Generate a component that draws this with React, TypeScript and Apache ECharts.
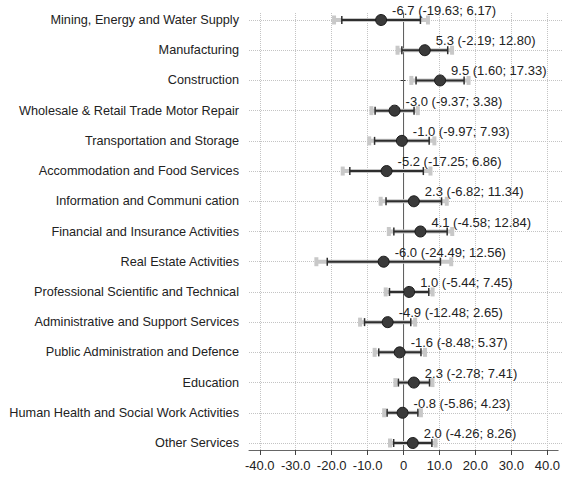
import React, { useEffect, useRef } from 'react';
import * as echarts from 'echarts';

const categories = [
  'Mining, Energy and Water Supply',
  'Manufacturing',
  'Construction',
  'Wholesale & Retail Trade Motor Repair',
  'Transportation and Storage',
  'Accommodation and Food Services',
  'Information and Communi cation',
  'Financial and Insurance Activities',
  'Real Estate Activities',
  'Professional Scientific and Technical',
  'Administrative and Support Services',
  'Public Administration and Defence',
  'Education',
  'Human Health and Social Work Activities',
  'Other Services',
];
const estimates = [-6.7, 5.3, 9.5, -3.0, -1.0, -5.2, 2.3, 4.1, -6.0, 1.0, -4.9, -1.6, 2.3, -0.8, 2.0];
const ci95Low = [-19.63, -2.19, 1.6, -9.37, -9.97, -17.25, -6.82, -4.58, -24.49, -5.44, -12.48, -8.48, -2.78, -5.86, -4.26];
const ci95High = [6.17, 12.8, 17.33, 3.38, 7.93, 6.86, 11.34, 12.84, 12.56, 7.45, 2.65, 5.37, 7.41, 4.23, 8.26];
const ci90Low = [-17.5, -1.0, 2.9, -8.35, -8.5, -15.3, -5.35, -3.2, -21.5, -4.4, -11.25, -7.35, -1.95, -5.05, -3.25];
const ci90High = [4.1, 11.6, 16.1, 2.35, 6.5, 4.9, 9.9, 11.45, 9.6, 6.4, 1.45, 4.25, 6.6, 3.4, 7.25];
const xTickValues = [-40, -30, -20, -10, 0, 10, 20, 30, 40];
const xMin = -43;
const xMax = 43;

const FONT = '"Liberation Sans", Arial, Helvetica, sans-serif';

export default function App() {
  const ref = useRef<HTMLDivElement>(null);
  useEffect(() => {
    if (!ref.current) return;
    const chart = echarts.init(ref.current, undefined, { renderer: 'svg' });
    const data = categories.map((_, i) => [
      i,
      estimates[i],
      ci95Low[i],
      ci95High[i],
      ci90Low[i],
      ci90High[i],
    ]);
    const option: any = {
      animation: false,
      backgroundColor: '#ffffff',
      textStyle: { fontFamily: FONT },
      grid: [
        { left: 249, right: 1, top: 13, bottom: 27, containLabel: false },
        { left: 249, right: 1, top: 20, bottom: 34, containLabel: false },
      ],
      xAxis: [
        {
          type: 'value',
          gridIndex: 0,
          min: xMin,
          max: xMax,
          axisLine: { show: true, lineStyle: { color: '#666', width: 1 } },
          axisTick: {
            show: true,
            length: 5,
            customValues: xTickValues,
            lineStyle: { color: '#444' },
          },
          axisLabel: {
            show: true,
            customValues: xTickValues,
            margin: 9,
            fontSize: 13,
            color: '#222',
            fontFamily: FONT,
            formatter: (v: number) => (v === 0 ? '0' : v.toFixed(1)),
          },
          splitLine: {
            show: true,
            lineStyle: { color: '#c4c4c4', type: 'dotted', width: 1 },
          },
        },
        {
          type: 'value',
          gridIndex: 1,
          min: xMin,
          max: xMax,
          show: false,
          splitLine: { show: false },
        },
      ],
      yAxis: [
        {
          type: 'value',
          gridIndex: 0,
          min: 0,
          max: 1,
          axisLine: { show: true, lineStyle: { color: '#222', width: 1 } },
          axisTick: { show: false },
          axisLabel: { show: false },
          splitLine: { show: false },
        },
        {
          type: 'category',
          gridIndex: 1,
          data: categories,
          inverse: true,
          boundaryGap: false,
          axisLine: { show: false },
          axisTick: { show: true, length: 5, lineStyle: { color: '#333' } },
          axisLabel: {
            show: true,
            margin: 10,
            fontSize: 12.7,
            color: '#222',
            fontFamily: FONT,
            interval: 0,
          },
          splitLine: {
            show: true,
            lineStyle: { color: '#c4c4c4', type: 'dotted', width: 1 },
          },
        },
      ],
      series: [
        {
          type: 'line',
          xAxisIndex: 0,
          yAxisIndex: 0,
          data: [
            [0, 0],
            [0, 1],
          ],
          symbol: 'none',
          lineStyle: { color: '#666', width: 1 },
          silent: true,
          z: 1,
        },
        {
          type: 'custom',
          xAxisIndex: 1,
          yAxisIndex: 1,
          data,
          encode: { x: [1, 2, 3, 4, 5], y: 0 },
          z: 3,
          silent: true,
          renderItem: (params: any, api: any) => {
            const yi = api.value(0);
            const est = api.value(1);
            const p = api.coord([est, yi]);
            const a = api.coord([api.value(2), yi]);
            const b = api.coord([api.value(3), yi]);
            const c = api.coord([api.value(4), yi]);
            const d = api.coord([api.value(5), yi]);
            const cy = p[1];
            const gray = '#c8c8c8';
            const dark = '#2e2e2e';
            const i = params.dataIndex;
            const label = `${estimates[i].toFixed(1)} (${ci95Low[i].toFixed(2)}; ${ci95High[i].toFixed(2)})`;
            return {
              type: 'group',
              children: [
                { type: 'line', shape: { x1: a[0], y1: cy, x2: b[0], y2: cy }, style: { stroke: gray, lineWidth: 4 } },
                { type: 'line', shape: { x1: a[0], y1: cy - 4.5, x2: a[0], y2: cy + 4.5 }, style: { stroke: gray, lineWidth: 4 } },
                { type: 'line', shape: { x1: b[0], y1: cy - 4.5, x2: b[0], y2: cy + 4.5 }, style: { stroke: gray, lineWidth: 4 } },
                { type: 'line', shape: { x1: c[0], y1: cy, x2: d[0], y2: cy }, style: { stroke: dark, lineWidth: 2 } },
                { type: 'line', shape: { x1: c[0], y1: cy - 4, x2: c[0], y2: cy + 4 }, style: { stroke: dark, lineWidth: 1.5 } },
                { type: 'line', shape: { x1: d[0], y1: cy - 4, x2: d[0], y2: cy + 4 }, style: { stroke: dark, lineWidth: 1.5 } },
                { type: 'circle', shape: { cx: p[0], cy, r: 5.5 }, style: { fill: '#3a3a3a', stroke: '#1a1a1a', lineWidth: 1 } },
                {
                  type: 'text',
                  x: p[0] + 11,
                  y: cy - 9.5,
                  style: {
                    text: label,
                    fill: '#222',
                    fontSize: 13,
                    fontFamily: FONT,
                    align: 'left',
                    verticalAlign: 'middle',
                  },
                },
              ],
            };
          },
        },
      ],
    };
    chart.setOption(option);
    return () => chart.dispose();
  }, []);
  return (
    <div
      ref={ref}
      style={{ position: 'fixed', left: 0, top: 0, width: 563, height: 477, background: '#fff' }}
    />
  );
}
